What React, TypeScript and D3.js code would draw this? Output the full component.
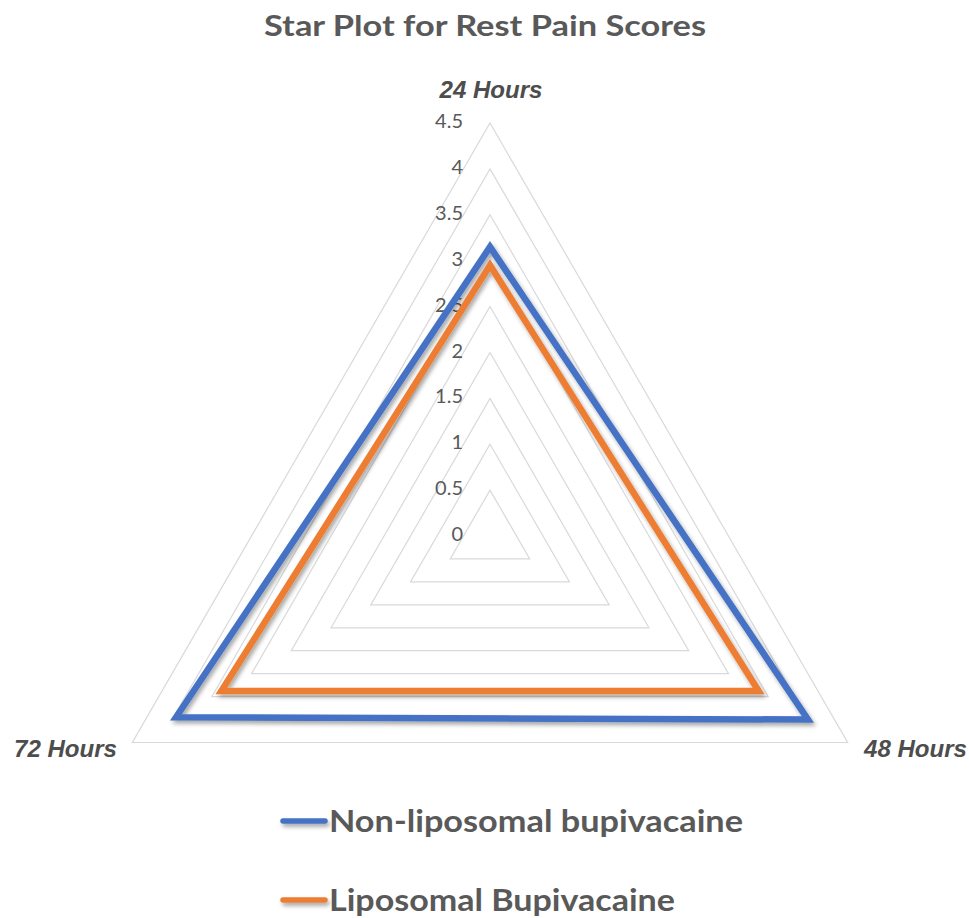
import React from "react";
import * as d3 from "d3";

const axes = ["24 Hours", "48 Hours", "72 Hours"];
const nonLiposomal = [3.15, 4.0, 3.95];
const liposomal = [2.95, 3.38, 3.38];
const ticks = [0, 0.5, 1, 1.5, 2, 2.5, 3, 3.5, 4, 4.5];
const seriesNames = ["Non-liposomal bupivacaine", "Liposomal Bupivacaine"];
const seriesColors = ["#4472C4", "#ED7D31"];

const W = 969;
const H = 918;
const cx = 490;
const cy = 536;
const R = 413;

export default function App() {
  const r = d3.scaleLinear().domain([0, 4.5]).range([0, R]);
  const angle = (i: number) => -Math.PI / 2 + (i * 2 * Math.PI) / axes.length;
  const pt = (i: number, v: number): [number, number] => [
    cx + r(v) * Math.cos(angle(i)),
    cy + r(v) * Math.sin(angle(i)),
  ];
  const line = d3.line<[number, number]>().curve(d3.curveLinearClosed);
  const gridPath = (v: number) => line(axes.map((_, i) => pt(i, v)))!;
  const series = [nonLiposomal, liposomal];

  const axisLabelPos = [
    { x: 491, y: 98, anchor: "middle" },
    { x: 967, y: 757, anchor: "end" },
    { x: 14, y: 757, anchor: "start" },
  ];

  return (
    <svg width={W} height={H} style={{ position: "absolute", left: 0, top: 0 }}>
      <defs>
        <filter id="shadow" filterUnits="userSpaceOnUse" x={0} y={0} width={W} height={H}>
          <feDropShadow dx="2" dy="3" stdDeviation="2" floodColor="#000" floodOpacity="0.35" />
        </filter>
      </defs>
      <rect width={W} height={H} fill="#fff" />
      <text
        x={485}
        y={36}
        textAnchor="middle"
        fontFamily="Lato, 'Open Sans', sans-serif"
        fontWeight="bold"
        fontSize={29}
        fill="#595959"
        textLength={442}
        lengthAdjust="spacingAndGlyphs"
      >
        Star Plot for Rest Pain Scores
      </text>
      {ticks
        .filter((t) => t > 0)
        .map((t) => (
          <path key={t} d={gridPath(t)} fill="none" stroke="#D9D9D9" strokeWidth={1.2} />
        ))}
      {ticks.map((t) => (
        <text
          key={t}
          x={cx - 27}
          y={cy - r(t)}
          textAnchor="end"
          dominantBaseline="middle"
          fontFamily="Lato, 'Open Sans', sans-serif"
          fontSize={20}
          fill="#595959"
        >
          {t}
        </text>
      ))}
      {series.map((s, si) => (
        <path
          key={si}
          d={line(s.map((v, i) => pt(i, v)))!}
          fill="none"
          stroke={seriesColors[si]}
          strokeWidth={6.5}
          strokeLinejoin="miter"
          strokeMiterlimit={10}
          filter="url(#shadow)"
        />
      ))}
      {axes.map((a, i) => (
        <text
          key={a}
          x={axisLabelPos[i].x}
          y={axisLabelPos[i].y}
          textAnchor={axisLabelPos[i].anchor as any}
          fontFamily="'Liberation Sans', Arial, sans-serif"
          fontWeight="bold"
          fontStyle="italic"
          fontSize={23}
          fill="#4D4D4D"
          textLength={103}
          lengthAdjust="spacingAndGlyphs"
        >
          {a}
        </text>
      ))}
      {seriesNames.map((n, si) => {
        const ly = si === 0 ? 821 : 900;
        return (
          <g key={n}>
            <line
              x1={283}
              x2={325}
              y1={ly}
              y2={ly}
              stroke={seriesColors[si]}
              strokeWidth={5.5}
              strokeLinecap="round"
              filter="url(#shadow)"
            />
            <text
              x={329}
              y={ly + 11}
              fontFamily="Lato, 'Open Sans', sans-serif"
              fontWeight="bold"
              fontSize={31}
              fill="#595959"
              textLength={si === 0 ? 414 : 346}
              lengthAdjust="spacingAndGlyphs"
            >
              {n}
            </text>
          </g>
        );
      })}
    </svg>
  );
}
